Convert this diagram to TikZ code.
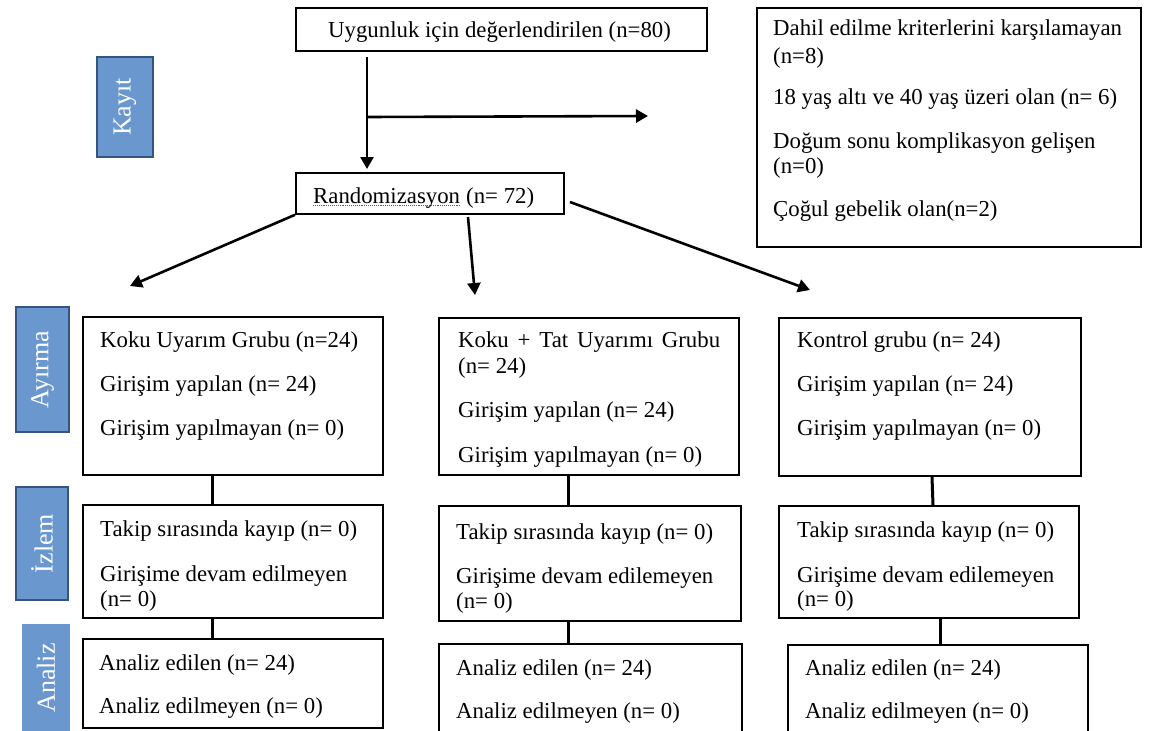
\documentclass[tikz,border=0pt]{standalone}
\usepackage{fontspec}
\setmainfont{Liberation Serif}
\usetikzlibrary{arrows.meta}
\definecolor{labfill}{HTML}{6A97CD}
\definecolor{labedge}{HTML}{34557E}
\definecolor{spellred}{HTML}{D22B2B}
\newcommand\bodyfont{\fontsize{22.8pt}{27pt}\selectfont}
\newcommand\labfont{\fontsize{26pt}{30pt}\selectfont}
\tikzset{
  box/.style={draw=black, line width=1.8pt, rectangle, inner sep=0pt, anchor=north west},
  txt/.style={inner sep=0pt, anchor=base west, font=\bodyfont},
  lab/.style={fill=labfill, draw=labedge, line width=1.6pt, rectangle, inner sep=0pt,
              rotate=90, text=white, font=\labfont},
  labnb/.style={lab, draw=none},
  arr/.style={line width=2.6pt, -{Triangle[width=13pt,length=12pt]}},
  conn/.style={line width=3pt},
  spell/.style={draw=spellred, line width=0.9pt, densely dotted}
}
\begin{document}
\begin{tikzpicture}[x=1pt,y=-1pt]
\clip (0,0) rectangle (1149,731);
\fill[white] (0,0) rectangle (1149,731);

% ---- boxes ----
\node[box, minimum width=411pt, minimum height=43pt] (top) at (295,7) {};
\node[box, minimum width=268pt, minimum height=41pt] (rand) at (295,172) {};
\node[box, minimum width=384pt, minimum height=239pt] (excl) at (756,7) {};

\node[box, minimum width=300pt, minimum height=158pt] (L1) at (82,316) {};
\node[box, minimum width=300pt, minimum height=157pt] (M1) at (438,317) {};
\node[box, minimum width=302pt, minimum height=158pt] (R1) at (778,317) {};

\node[box, minimum width=300pt, minimum height=113pt] (L2) at (82,504) {};
\node[box, minimum width=302pt, minimum height=115pt] (M2) at (438,505) {};
\node[box, minimum width=300pt, minimum height=112pt] (R2) at (778,505) {};

\node[box, minimum width=300pt, minimum height=89pt] (L3) at (82,638) {};
\node[box, minimum width=303pt, minimum height=110pt] (M3) at (438,643) {};
\node[box, minimum width=300pt, minimum height=110pt] (R3) at (787,644) {};

% ---- side labels ----
\node[lab, minimum width=100pt, minimum height=56pt] (kayit) at (125,107) {Kayıt};
\node[lab, minimum width=125pt, minimum height=53pt] (ayirma) at (42.5,369.5) {Ayırma};
\node[lab, minimum width=113pt, minimum height=52pt] (izlem) at (42,543.5) {İzlem};
\node[labnb, minimum width=108pt, minimum height=48pt] (analiz) at (46,678) {Analiz};

% ---- texts ----
\node[txt] (t0) at (328,37) {Uygunluk için değerlendirilen (n=80)};
\node[txt] (rw) at (313,203) {Randomizasyon};
\node[txt, anchor=base west] (rn) at ([xshift=5.7pt]rw.base east) {(n= 72)};
\draw[spell] ([yshift=-2.5pt]rw.base west) -- ([yshift=-2.5pt]rw.base east);

\node[txt] (e1) at (773,35) {Dahil edilme kriterlerini karşılamayan};
\node[txt] (e2) at (773,63) {(n=8)};
\node[txt] (e3) at (773,104) {18 yaş altı ve 40 yaş üzeri olan (n= 6)};
\node[txt] (e4) at (773,148) {Doğum sonu komplikasyon gelişen};
\node[txt] (e5) at (773,173) {(n=0)};
\node[txt] (e6) at (773,216) {Çoğul gebelik olan(n=2)};

\node[txt] (l1a) at (100,347) {Koku Uyarım Grubu (n=24)};
\node[txt] (l1b) at (100,391) {Girişim yapılan (n= 24)};
\node[txt] (l1c) at (100,435) {Girişim yapılmayan (n= 0)};

\node[txt] (m1a) at (458,347) {\makebox[262pt][s]{Koku + Tat Uyarımı Grubu}};
\node[txt] (m1b) at (458,373) {(n= 24)};
\node[txt] (m1c) at (458,417) {Girişim yapılan (n= 24)};
\node[txt] (m1d) at (458,462) {Girişim yapılmayan (n= 0)};

\node[txt] (r1a) at (797,347) {Kontrol grubu (n= 24)};
\node[txt] (r1b) at (797,391) {Girişim yapılan (n= 24)};
\node[txt] (r1c) at (797,435) {Girişim yapılmayan (n= 0)};

\node[txt] (l2a) at (100,536) {Takip sırasında kayıp (n= 0)};
\node[txt] (l2b) at (100,581) {Girişime devam edilmeyen};
\node[txt] (l2c) at (100,606) {(n= 0)};

\node[txt] (m2a) at (456,539) {Takip sırasında kayıp (n= 0)};
\node[txt] (m2b) at (456,583) {Girişime devam edilemeyen};
\node[txt] (m2c) at (456,608) {(n= 0)};

\node[txt] (r2a) at (797,537) {Takip sırasında kayıp (n= 0)};
\node[txt] (r2b) at (797,582) {Girişime devam edilemeyen};
\node[txt] (r2c) at (797,606) {(n= 0)};

\node[txt] (l3a) at (99,670) {Analiz edilen (n= 24)};
\node[txt] (l3b) at (99,713) {Analiz edilmeyen (n= 0)};
\node[txt] (m3a) at (456,675) {Analiz edilen (n= 24)};
\node[txt] (m3b) at (456,718) {Analiz edilmeyen (n= 0)};
\node[txt] (r3a) at (805,675) {Analiz edilen (n= 24)};
\node[txt] (r3b) at (805,718) {Analiz edilmeyen (n= 0)};

% ---- arrows ----
\coordinate (v0) at (367,57);
\coordinate (v1) at (367,117);
\coordinate (xend) at (648,116);
\draw[arr, shorten >=3pt] (v0) -- (v0 |- rand.north);
\draw[arr] (v1) -- (xend);

\coordinate (aL) at (130,286);
\coordinate (mS) at (468,217);
\coordinate (aM) at (475,295);
\coordinate (rS) at (570,202);
\coordinate (aR) at (810,290);
\draw[arr] (rand.south west) -- (aL);
\draw[arr] (mS) -- (aM);
\draw[arr] (rS) -- (aR);

% ---- column connectors ----
\draw[conn] ([xshift=130pt]L1.south west) -- ([xshift=130pt]L2.north west);
\draw[conn] ([xshift=130pt]L2.south west) -- ([xshift=130pt]L3.north west);
\draw[conn] ([xshift=130pt]M1.south west) -- ([xshift=130pt]M2.north west);
\draw[conn] ([xshift=130pt]M2.south west) -- ([xshift=130pt]M3.north west);
\draw[conn] ([xshift=154pt]R1.south west) -- ([xshift=155pt]R2.north west);
\draw[conn] ([xshift=162pt]R2.south west) -- ([xshift=153pt]R3.north west);
\end{tikzpicture}
\end{document}
